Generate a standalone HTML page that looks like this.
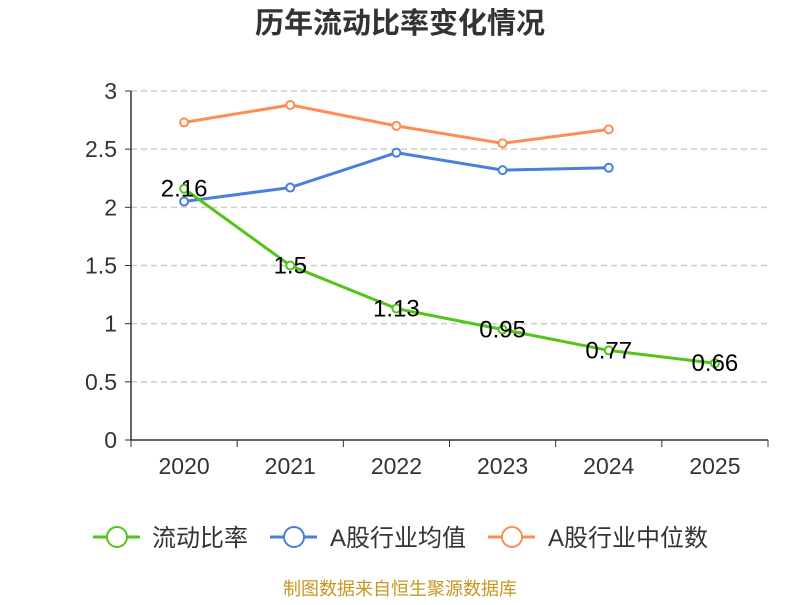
<!DOCTYPE html>
<html><head><meta charset="utf-8"><style>
body{margin:0;background:#fff;}
svg{font-family:"Liberation Sans","Noto Sans CJK SC",sans-serif;}
</style></head><body>
<svg id="c" width="800" height="600">
<text x="400" y="33" text-anchor="middle" font-size="29" font-weight="bold" fill="#333">历年流动比率变化情况</text>
<g id="grid"></g><g id="axes"></g><g id="series"></g>
<g>
<g><line x1="93" y1="537" x2="140" y2="537" stroke="#52c41a" stroke-width="3"/><circle cx="117" cy="537" r="10" fill="#fff" stroke="#52c41a" stroke-width="2"/><text x="152" y="546" font-size="24" fill="#333">流动比率</text></g>
<g><line x1="270" y1="537" x2="317" y2="537" stroke="#4a7fdc" stroke-width="3"/><circle cx="294" cy="537" r="10" fill="#fff" stroke="#4a7fdc" stroke-width="2"/><text x="330" y="546" font-size="24" fill="#333">A股行业均值</text></g>
<g><line x1="488" y1="537" x2="535" y2="537" stroke="#ff8c55" stroke-width="3"/><circle cx="512" cy="537" r="10" fill="#fff" stroke="#ff8c55" stroke-width="2"/><text x="548" y="546" font-size="24" fill="#333">A股行业中位数</text></g>
</g>
<text x="400" y="595" text-anchor="middle" font-size="18" fill="#c8961e">制图数据来自恒生聚源数据库</text>
</svg>
<script>
const categories=["2020","2021","2022","2023","2024","2025"];
const currentRatio=[2.16,1.5,1.13,0.95,0.77,0.66];
const industryAvg=[2.05,2.17,2.47,2.32,2.34];
const industryMedian=[2.73,2.88,2.70,2.55,2.67];
const yTicks=[0,0.5,1,1.5,2,2.5,3];
const NS="http://www.w3.org/2000/svg";
const L=131,R=768,T=91,B=440,ymax=3;
const bw=(R-L)/categories.length;
const x=i=>L+bw*(i+0.5);
const y=v=>B-(v/ymax)*(B-T);
function mk(t,a,p){const e=document.createElementNS(NS,t);for(const k in a)e.setAttribute(k,a[k]);p.appendChild(e);return e;}
const grid=document.getElementById('grid'),axes=document.getElementById('axes'),ser=document.getElementById('series');
yTicks.forEach(v=>{
 if(v>0){const g=mk('line',{x1:L,x2:R,y1:y(v),y2:y(v),stroke:'#ccc','stroke-dasharray':'6,4','stroke-width':1.5},grid);
 
 }
 const t=mk('text',{x:L-14,y:y(v)+8,'text-anchor':'end','font-size':23,fill:'#333'},axes);t.textContent=v;
 
 
 mk('line',{x1:L-6,x2:L,y1:y(v),y2:y(v),stroke:'#333'},axes);
});
mk('line',{x1:L,x2:L,y1:T,y2:B,stroke:'#333','stroke-width':1.5},axes);
mk('line',{x1:L,x2:R,y1:B,y2:B,stroke:'#333','stroke-width':1.5},axes);
for(let i=0;i<=categories.length;i++)mk('line',{x1:L+bw*i,x2:L+bw*i,y1:B,y2:B+7,stroke:'#333'},axes);
categories.forEach((c,i)=>{const t=mk('text',{x:x(i),y:B+34,'text-anchor':'middle','font-size':23,fill:'#333'},axes);t.textContent=c;
 
 });
function line(d,col,name,labels){
 const g=mk('g',{},ser);
 
 
 mk('polyline',{points:d.map((v,i)=>x(i)+','+y(v)).join(' '),fill:'none',stroke:col,'stroke-width':3},g);
 d.forEach((v,i)=>{const c=mk('circle',{cx:x(i),cy:y(v),r:4,fill:'#fff',stroke:col,'stroke-width':2},g);
  
  
  if(labels){const t=mk('text',{x:x(i),y:y(v)+8,'text-anchor':'middle','font-size':24,fill:'#000'},g);t.textContent=v;
   
   }
 });
}
line(industryMedian,'#ff8c55','industry-median-line',false);
line(industryAvg,'#4a7fdc','industry-avg-line',false);
line(currentRatio,'#52c41a','current-ratio-line',true);
</script>
</body></html>
